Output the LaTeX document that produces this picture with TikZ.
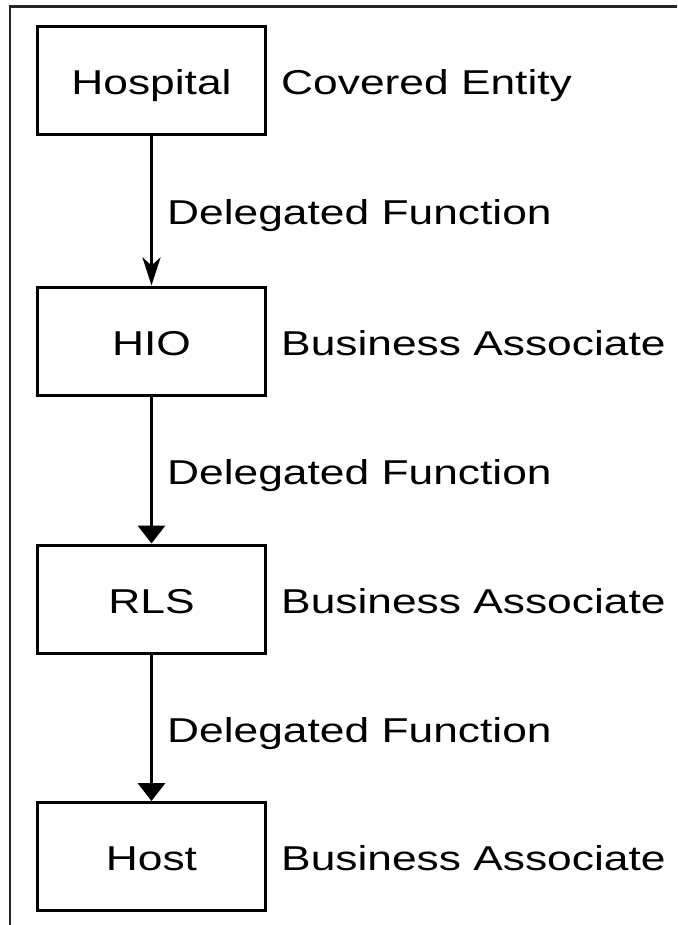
\documentclass[tikz,border=0pt]{standalone}
\usepackage{graphicx}
\usepackage{fontspec}
\setmainfont{Liberation Sans}
\usetikzlibrary{arrows.meta}
% text in this chart is set slightly wide
\newcommand{\widetext}[1]{\scalebox{1.285}[1]{#1}}
\begin{document}
\begin{tikzpicture}[x=1pt,y=-1pt,
  entity/.style={draw, line width=3pt, minimum width=228pt, minimum height=108pt,
    inner sep=0pt, text height=28pt, text depth=0pt,
    font=\fontsize{34.5}{40}\selectfont},
  role/.style={anchor=base west, inner sep=0pt, font=\fontsize{34.5}{40}\selectfont},
  flow/.style={line width=3.5pt, -{Triangle[length=18pt,width=27pt]}},
  firstflow/.style={line width=3.5pt, -{Stealth[length=28pt,width=18pt,inset=8pt]}},
]
\useasboundingbox (0,0) rectangle (677,925);
% outer frame (left and top edges)
\draw[line width=2.2pt, black!85] (10,925) |- (677,6.5);

% chain of entities
\node[entity] (hosp) at (151.5,80.5) {\widetext{Hospital}};
\node[entity] (hio)  at (151.5,341)  {\widetext{HIO}};
\node[entity] (rls)  at (151.5,599)  {\widetext{RLS}};
\node[entity] (host) at (151.5,856.5) {\widetext{Host}};

% roles
\node[role] (hospRole) at (281,94.5) {\widetext{Covered Entity}};
\node[role] (hioRole)  at (281,355)  {\widetext{Business Associate}};
\node[role] (rlsRole)  at (281,613)  {\widetext{Business Associate}};
\node[role] (hostRole) at (281,870.5) {\widetext{Business Associate}};

% delegation labels
\node[role] (del1) at (167,225) {\widetext{Delegated Function}};
\node[role] (del2) at (167,484) {\widetext{Delegated Function}};
\node[role] (del3) at (167,742) {\widetext{Delegated Function}};

% delegation arrows
\draw[firstflow] (hosp.south) -- (hio.north);
\draw[flow] (hio.south) -- (rls.north);
\draw[flow] (rls.south) -- (host.north);
\end{tikzpicture}
\end{document}
